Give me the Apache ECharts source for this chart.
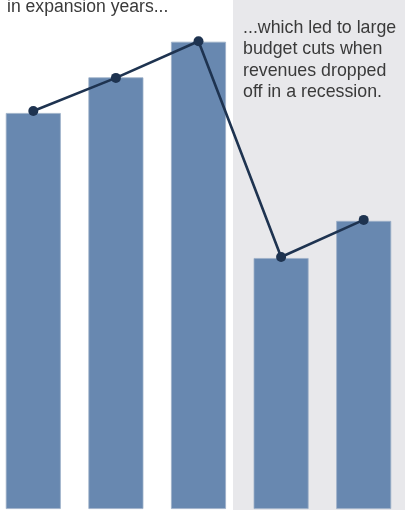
<!DOCTYPE html>
<html>
<head>
<meta charset="utf-8">
<script src="https://cdn.jsdelivr.net/npm/echarts@6/dist/echarts.min.js"></script>
<style>
  html, body { margin: 0; padding: 0; background: #ffffff; overflow: hidden; }
  /* plot area bleeds slightly past the left edge so the bands line up */
  #chart { position: absolute; left: -8px; top: 0; width: 413px; height: 510px; }
</style>
</head>
<body>
<div id="chart"></div>
<script>
// Five fiscal years: three expansion years, then two recession years
const years = ['Y1', 'Y2', 'Y3', 'Y4', 'Y5'];
// Spending (bars) and revenue trend (line), in index units
const spending = [77.8, 84.8, 91.8, 49.3, 56.6];
const revenue = [78.2, 84.7, 91.9, 49.5, 56.8];
// Annotation texts
const leftNote = 'in expansion years...';
const rightNote = ['...which led to large', 'budget cuts when', 'revenues dropped', 'off in a recession.'];

const OFFSET = 8; // horizontal shift of the canvas

const chart = echarts.init(document.getElementById('chart'), null, { renderer: 'canvas' });

chart.setOption({
  animation: false,
  backgroundColor: '#ffffff',
  grid: { left: 0, right: 0, top: 0, bottom: 1, containLabel: false },
  xAxis: {
    type: 'category',
    data: years,
    show: false,
    boundaryGap: true
  },
  yAxis: {
    type: 'value',
    min: 0,
    max: 100,
    show: false
  },
  graphic: [
    {
      // recession shading
      type: 'rect',
      z: -1,
      shape: { x: 233 + OFFSET, y: 0, width: 180, height: 510 },
      style: { fill: '#e8e8eb' }
    },
    {
      type: 'text',
      z: 10,
      left: 7 + OFFSET,
      top: -2,
      style: {
        text: leftNote,
        font: '17.6px "Liberation Sans", Arial, sans-serif',
        fill: '#3a3a3a'
      }
    },
    {
      type: 'text',
      z: 10,
      left: 243 + OFFSET,
      top: 17,
      style: {
        text: rightNote.join('\n'),
        font: '17.8px "Liberation Sans", Arial, sans-serif',
        lineHeight: 21.5,
        fill: '#3a3a3a'
      }
    }
  ],
  series: [
    {
      type: 'bar',
      data: spending,
      barWidth: 55,
      itemStyle: {
        color: '#6888b0',
        borderColor: '#9db0c8',
        borderWidth: 0.8
      },
      z: 2
    },
    {
      type: 'line',
      data: revenue,
      symbol: 'circle',
      symbolSize: 10,
      lineStyle: { color: '#1e3350', width: 2.6 },
      itemStyle: { color: '#1e3350' },
      z: 5
    }
  ]
});
</script>
</body>
</html>
